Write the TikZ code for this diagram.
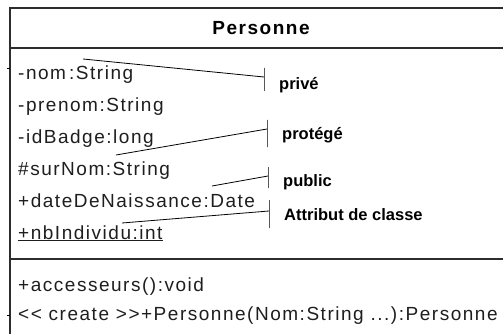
\documentclass[tikz,border=0pt]{standalone}
\usepackage{fontspec}
\setmainfont{Liberation Sans}
\newfontfamily\umlfont[LetterSpace=8]{Liberation Sans}
\usepackage{tikz}
\usetikzlibrary{positioning}
\definecolor{framegray}{RGB}{45,45,45}
\definecolor{textgray}{RGB}{30,30,30}
\tikzset{
  frame/.style={draw=framegray, line width=1.4pt},
  member/.style={
    anchor=west, inner sep=0pt, text=textgray,
    font=\umlfont\fontsize{19}{22}\selectfont,
    minimum height=31.5pt, text height=13pt, text depth=4pt
  },
  method/.style={member, minimum height=29pt},
  title/.style={font=\umlfont\bfseries\fontsize{19}{22}\selectfont, inner sep=0pt},
  note/.style={anchor=west, inner sep=0pt, font=\bfseries\fontsize{16.5}{20}\selectfont},
  bar/.style={draw, line width=0.8pt, inner sep=0pt, outer sep=0pt, minimum width=0pt},
  leader/.style={line width=0.8pt},
  tick/.style={line width=1pt}
}

\begin{document}
\begin{tikzpicture}[x=1pt, y=-1pt]
  \useasboundingbox (0,0) rectangle (503,334);
  \clip (0,0) rectangle (503,334);

  % class box, running off the right and bottom edges
  \draw[frame] (530,8) -- (10,8) -- (10,350);
  \draw[frame] (10,48) -- (530,48);
  \draw[frame] (10,259) -- (530,259);
  \node[title] (name) at (261,28) {Personne};

  % attributes
  \node[member] (nom) at (18,75) {-nom\,:String};
  \node[member, below=0pt of nom.south west, anchor=north west] (prenom) {-prenom:String};
  \node[member, below=0pt of prenom.south west, anchor=north west] (idbadge) {-idBadge:long};
  \node[member, below=0pt of idbadge.south west, anchor=north west] (surnom) {\#surNom:String};
  \node[member, below=0pt of surnom.south west, anchor=north west] (naissance) {+dateDeNaissance:Date};
  \node[member, below=0pt of naissance.south west, anchor=north west] (nbindividu) {\underline{+nbIndividu:int}};

  % methods
  \node[method] (accesseurs) at (18,287) {+accesseurs():void};
  \node[method, below=0pt of accesseurs.south west, anchor=north west] (create) {<{}< create >{}>+Personne(Nom:String ...):Personne};

  % small marks on the left edge
  \coordinate (tickA) at (6.5,69);
  \coordinate (tickB) at (6.5,315);
  \draw[tick] (tickA) -- (10,69);
  \draw[tick] (tickB) -- (10,315);

  % annotations
  \node[note] (prive) at (279,85) {privé};
  \node[note] (protege) at (282,135) {protégé};
  \node[note] (public) at (283,182) {public};
  \node[note] (classe) at (284,215) {Attribut de classe};

  \node[bar, minimum height=23pt] (barprive) at (264,79.5) {};
  \node[bar, minimum height=27pt] (barprotege) at (267,133.5) {};
  \node[bar, minimum height=21pt] (barpublic) at (268,177.5) {};
  \node[bar, minimum height=28pt] (barclasse) at (269,214) {};

  \coordinate (fromprive) at (83,59);
  \coordinate (toprive) at (264,77);
  \coordinate (fromprotege) at (116,155);
  \coordinate (toprotege) at (267,129);
  \coordinate (frompublic) at (212,186);
  \coordinate (topublic) at (268,176);
  \coordinate (fromclasse) at (122,223);
  \coordinate (toclasse) at (269,211);

  \draw[leader] (fromprive) -- (toprive);
  \draw[leader] (fromprotege) -- (toprotege);
  \draw[leader] (frompublic) -- (topublic);
  \draw[leader] (fromclasse) -- (toclasse);
\end{tikzpicture}
\end{document}
